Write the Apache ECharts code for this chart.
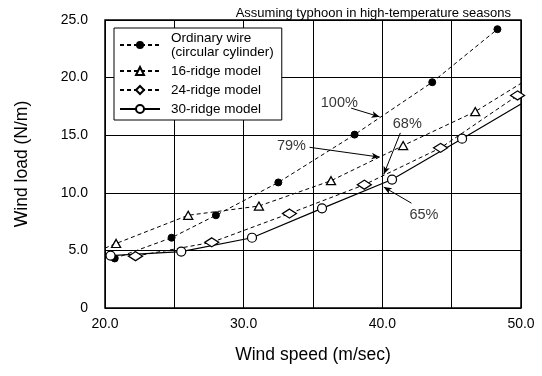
<!DOCTYPE html>
<html>
<head>
<meta charset="utf-8">
<script src="https://cdn.jsdelivr.net/npm/echarts@6/dist/echarts.min.js"></script>
<style>
  html, body { margin: 0; padding: 0; background: #fff; }
  #chart { width: 542px; height: 376px; }
</style>
</head>
<body>
<div id="chart"></div>
<script>
// Wind load measured on conductor models versus wind speed
const ordinarySpeed = [20.7, 24.8, 28.0, 32.5, 38.0, 43.6, 48.3];
const ordinaryLoad  = [4.3, 6.1, 8.05, 10.9, 15.05, 19.6, 24.2];

const ridge16Speed = [20.8, 26.0, 31.1, 36.3, 41.5, 46.7];
const ridge16Load  = [5.6, 8.05, 8.85, 11.05, 14.1, 17.05];
// trend line drawn past the measured points to the frame
const ridge16TrendStart = [20.0, 5.2];
const ridge16TrendEnd   = [50.0, 19.5];

const ridge24Speed = [22.2, 27.7, 33.3, 38.7, 44.2, 49.75];
const ridge24Load  = [4.5, 5.7, 8.2, 10.7, 13.9, 18.45];

const ridge30Speed = [20.4, 25.5, 30.6, 35.65, 40.7, 45.75];
const ridge30Load  = [4.55, 4.9, 6.1, 8.65, 11.15, 14.7];
const ridge30TrendEnd = [50.0, 17.7];

const seriesNames = [
  'Ordinary wire\n(circular cylinder)',
  '16-ridge model',
  '24-ridge model',
  '30-ridge model'
];

// ratio annotations at 40 m/sec (text anchor, arrow tail, arrow head)
const ratioLabels    = ['100%', '79%', '68%', '65%'];
const ratioTextAt    = [[36.9, 17.8], [33.45, 14.05], [41.8, 16.0], [43.0, 8.1]];
const ratioArrowFrom = [[37.75, 17.35], [34.75, 13.95], [41.3, 15.2], [42.1, 9.1]];
const ratioArrowTo   = [[39.8, 16.6], [39.8, 13.1], [40.1, 11.6], [40.1, 10.5]];

const xTicks = { min: 20, max: 50, step: 5 };
const yTicks = { min: 0, max: 25, step: 5 };

const FONT = 'Liberation Sans, Arial, Helvetica, sans-serif';

function pairs(xs, ys) {
  return xs.map((x, i) => [x, ys[i]]);
}
function trendPoint(p) {
  return { value: p, symbol: 'none' };
}

const ordinaryData = pairs(ordinarySpeed, ordinaryLoad);
const ridge16Data = [trendPoint(ridge16TrendStart)]
  .concat(pairs(ridge16Speed, ridge16Load))
  .concat([trendPoint(ridge16TrendEnd)]);
const ridge24Data = pairs(ridge24Speed, ridge24Load);
const ridge30Data = pairs(ridge30Speed, ridge30Load).concat([trendPoint(ridge30TrendEnd)]);

const chart = echarts.init(document.getElementById('chart'), null, { renderer: 'canvas' });

const dashed = { color: '#000', width: 1, type: [4, 3] };
const solid = { color: '#000', width: 1.2, type: 'solid' };

chart.setOption({
  animation: false,
  backgroundColor: '#fff',
  textStyle: { fontFamily: FONT },
  title: {
    text: 'Assuming typhoon in high-temperature seasons',
    right: 26,
    top: 2,
    textStyle: { fontFamily: FONT, fontSize: 13, fontWeight: 'normal', color: '#000' }
  },
  grid: {
    left: 105, right: 21, top: 20, bottom: 68,
    show: true, borderColor: '#000', borderWidth: 1.5, backgroundColor: 'transparent'
  },
  legend: {
    data: seriesNames,
    orient: 'vertical',
    left: 114,
    top: 28,
    padding: [3, 8, 4, 5],
    itemGap: 5,
    itemWidth: 40,
    itemHeight: 10,
    backgroundColor: '#fff',
    borderColor: '#000',
    borderWidth: 1,
    borderRadius: 0,
    textStyle: { fontFamily: FONT, fontSize: 13.5, lineHeight: 14, color: '#000', padding: [0, 0, 0, 6] }
  },
  xAxis: {
    type: 'value',
    min: xTicks.min, max: xTicks.max, interval: xTicks.step,
    name: 'Wind speed (m/sec)',
    nameLocation: 'middle',
    nameGap: 38,
    nameTextStyle: { fontFamily: FONT, fontSize: 17.5, color: '#000' },
    axisLine: { show: false },
    axisTick: { show: false },
    axisLabel: {
      margin: 9, fontFamily: FONT, fontSize: 14, color: '#000',
      formatter: v => (v % 10 === 0 ? v.toFixed(1) : '')
    },
    splitLine: { show: true, lineStyle: { color: '#000', width: 1 } }
  },
  yAxis: {
    type: 'value',
    min: yTicks.min, max: yTicks.max, interval: yTicks.step,
    name: 'Wind load (N/m)',
    nameLocation: 'middle',
    nameGap: 74,
    nameRotate: 90,
    nameTextStyle: { fontFamily: FONT, fontSize: 17.5, color: '#000' },
    axisLine: { show: false },
    axisTick: { show: false },
    axisLabel: {
      margin: 17, fontFamily: FONT, fontSize: 14, color: '#000',
      formatter: v => (v === 0 ? '0' : v.toFixed(1))
    },
    splitLine: { show: true, lineStyle: { color: '#000', width: 1 } }
  },
  series: [
    {
      name: seriesNames[0], type: 'line', data: ordinaryData,
      lineStyle: dashed, symbol: 'circle', symbolSize: 7,
      itemStyle: { color: '#000', borderColor: '#000' }, z: 4
    },
    {
      name: seriesNames[1], type: 'line', data: ridge16Data,
      lineStyle: dashed, symbol: 'triangle', symbolSize: [9, 8],
      itemStyle: { color: '#fff', borderColor: '#000', borderWidth: 1.3 }, z: 4
    },
    {
      name: seriesNames[2], type: 'line', data: ridge24Data,
      lineStyle: dashed, symbol: 'diamond', symbolSize: [14, 9],
      itemStyle: { color: '#fff', borderColor: '#000', borderWidth: 1.3 }, z: 4
    },
    {
      name: seriesNames[3], type: 'line', data: ridge30Data,
      lineStyle: solid, symbol: 'circle', symbolSize: 9,
      itemStyle: { color: '#fff', borderColor: '#000', borderWidth: 1.2 }, z: 4
    },
    {
      name: 'ratios', type: 'scatter', symbolSize: 0, z: 5,
      data: ratioLabels.map((t, i) => ({ name: t, value: ratioTextAt[i] })),
      label: {
        show: true, position: 'inside', formatter: '{b}',
        fontFamily: FONT, fontSize: 14.5, color: '#000'
      },
      markLine: {
        silent: true, animation: false,
        symbol: ['none', 'arrow'], symbolSize: [5, 8],
        label: { show: false },
        lineStyle: { color: '#000', width: 1, type: 'solid' },
        data: ratioArrowFrom.map((p, i) => [{ coord: p }, { coord: ratioArrowTo[i] }])
      }
    }
  ]
});
</script>
</body>
</html>
